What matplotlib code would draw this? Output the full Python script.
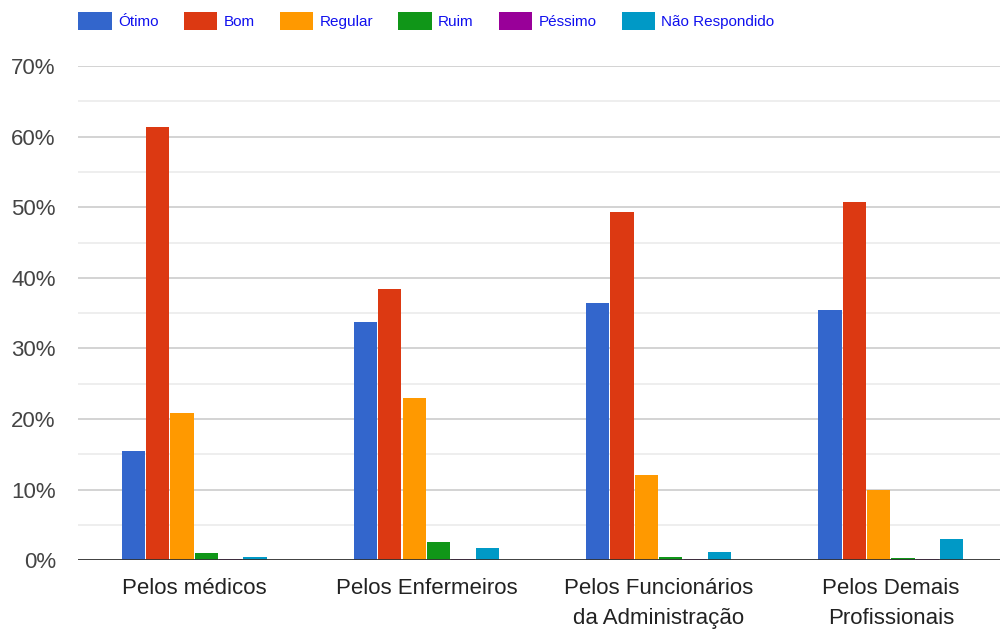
import numpy as np
import matplotlib
matplotlib.use("Agg")
import matplotlib.pyplot as plt
from matplotlib.ticker import MultipleLocator, FuncFormatter

categories = ["Pelos médicos", "Pelos Enfermeiros",
              "Pelos Funcionários\nda Administração", "Pelos Demais\nProfissionais"]
series = ["Ótimo", "Bom", "Regular", "Ruim", "Péssimo", "Não Respondido"]
otimo = [15.4, 33.7, 36.4, 35.4]
bom = [61.4, 38.4, 49.3, 50.7]
regular = [20.8, 23.0, 12.0, 10.0]
ruim = [1.0, 2.5, 0.5, 0.3]
pessimo = [0.1, 0.1, 0.1, 0.1]
nao_resp = [0.5, 1.7, 1.2, 3.0]
colors = ["#3366cc", "#dc3912", "#ff9900", "#109618", "#990099", "#0099c6"]

plt.rcParams["font.family"] = ["Liberation Sans", "DejaVu Sans"]

fig = plt.figure(figsize=(10, 6.3), dpi=100)
# the plot area runs a little past the right edge, as in the original
ax = fig.add_axes([0.078, 0.111, 0.929, 0.784])

x = np.arange(len(categories))
step = 0.105
width = 0.1
for i, (name, vals) in enumerate(zip(series, [otimo, bom, regular, ruim, pessimo, nao_resp])):
    offs = (i - 2.5) * step
    ax.bar(x + offs, np.array(vals) / 100, width, color=colors[i], label=name,
           zorder=3, linewidth=0)

ax.set_xlim(-0.5, 3.5)
ax.set_ylim(0, 0.70)
ax.yaxis.set_major_locator(MultipleLocator(0.1))
ax.yaxis.set_minor_locator(MultipleLocator(0.05))
ax.yaxis.set_major_formatter(FuncFormatter(lambda v, _: f"{v * 100:.0f}%"))
ax.grid(True, which="major", axis="y", color="#cccccc", lw=1.2, zorder=0)
ax.grid(True, which="minor", axis="y", color="#ebebeb", lw=1.2, zorder=0)
ax.axhline(0, color="#333333", lw=2, zorder=4)
for s in ax.spines.values():
    s.set_visible(False)
ax.set_xticks(x)
ax.set_xticklabels(categories, fontsize=16, color="#222222", linespacing=1.55)
ax.tick_params(axis="both", which="both", length=0)
ax.tick_params(axis="x", pad=13)
ax.tick_params(axis="y", labelsize=16, labelcolor="#444444", pad=16)

fig.legend(loc="upper left", bbox_to_anchor=(0.072, 0.99), ncol=6, frameon=False,
           fontsize=11, labelcolor="#1010ee", handlelength=2.2, handleheight=1.35,
           handletextpad=0.4, columnspacing=1.65, borderaxespad=0)

fig.savefig("out.png", dpi=100)
